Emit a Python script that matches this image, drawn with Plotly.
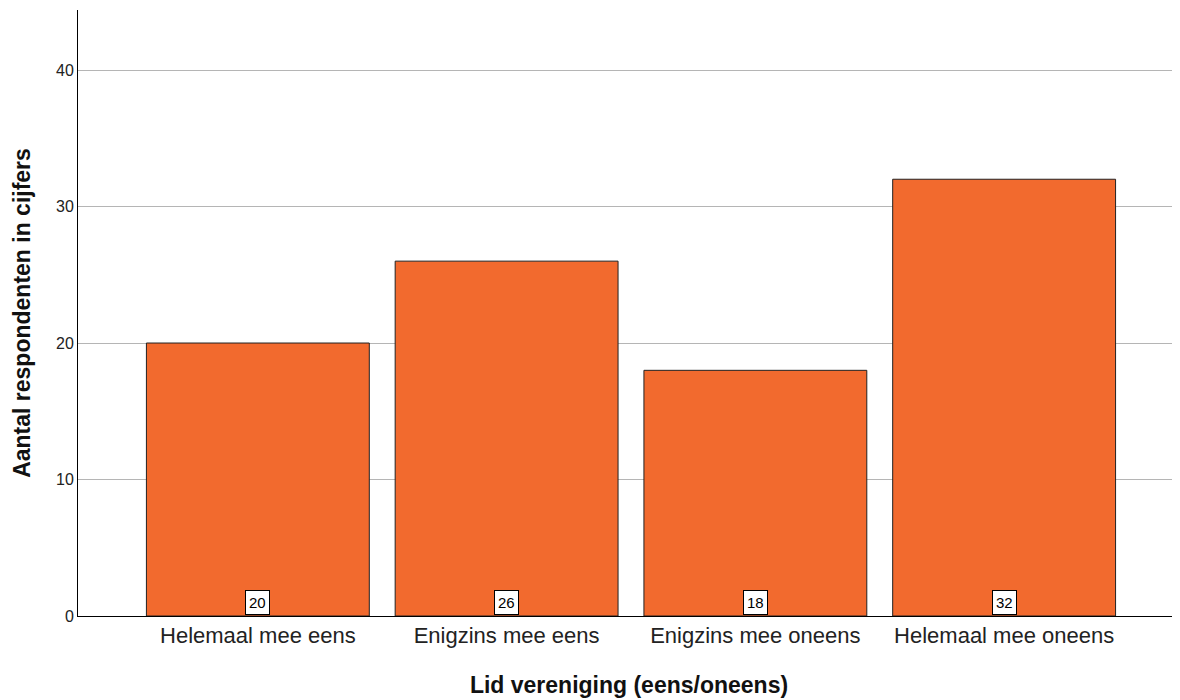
import plotly.graph_objects as go

categories = ["Helemaal mee eens", "Enigzins mee eens", "Enigzins mee oneens", "Helemaal mee oneens"]
values = [20, 26, 18, 32]
y_ticks = [0, 10, 20, 30, 40]

xpos = list(range(len(categories)))

fig = go.Figure()
fig.add_trace(go.Bar(
    x=xpos, y=values, width=0.896,
    marker=dict(color="#F26A2E", line=dict(color="#222222", width=1)),
    hoverinfo="skip",
))

for x, v in zip(xpos, values):
    fig.add_annotation(
        x=x, y=0, yanchor="bottom", yshift=1, text=str(v), showarrow=False,
        font=dict(family="Liberation Sans, Arial", size=15, color="#000"),
        bgcolor="white", bordercolor="#000", borderwidth=1, borderpad=3,
    )

fig.update_layout(
    width=1172, height=692,
    margin=dict(l=70, r=0, t=2, b=84),
    plot_bgcolor="white", paper_bgcolor="white",
    showlegend=False,
    font=dict(family="Liberation Sans, Arial", color="#222"),
    xaxis=dict(
        range=[-0.723, 3.707], tickvals=xpos, ticktext=categories,
        tickfont=dict(size=22, color="#222"),
        showline=True, linecolor="#000", linewidth=1, showgrid=False, ticks="",
        title=dict(text="<b>Lid vereniging (eens/oneens)</b>", font=dict(size=23, color="#111"), standoff=29),
        zeroline=False,
    ),
    yaxis=dict(
        range=[0, 44.4], tickvals=y_ticks,
        tickfont=dict(size=16, color="#222"),
        showline=True, linecolor="#000", linewidth=1,
        showgrid=True, gridcolor="#b5b5b5", gridwidth=1, ticks="", ticklen=0,
        title=dict(text="<b>Aantal respondenten in cijfers</b>", font=dict(size=23, color="#111"), standoff=18),
        zeroline=False,
    ),
)

fig.write_html("out.html")
